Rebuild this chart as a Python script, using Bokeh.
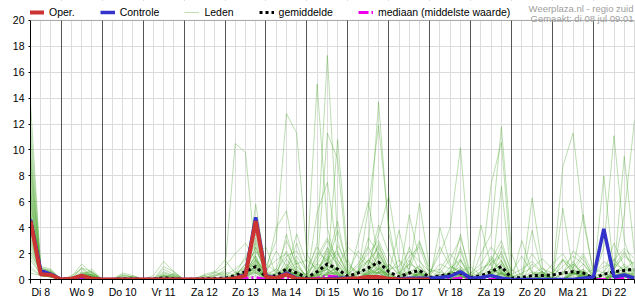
from bokeh.plotting import figure
from bokeh.models import Range1d, FixedTicker, Grid, Legend, LegendItem, Label, BoxAnnotation
from bokeh.embed import file_html
from bokeh.resources import INLINE

# time axis: hours since Di 8 00:00, 6-hourly steps
hours = list(range(6, 361, 6))
day_labels = ["Di 8", "Wo 9", "Do 10", "Vr 11", "Za 12", "Zo 13", "Ma 14", "Di 15",
              "Wo 16", "Do 17", "Vr 18", "Za 19", "Zo 20", "Ma 21", "Di 22"]
y_ticks = [0, 2, 4, 6, 8, 10, 12, 14, 16, 18, 20]

# operational run (ends Vr 18 00:00)
oper = [4.5, 0.4, 0.35,
        0, 0.05, 0.3, 0.05,
        0, 0, 0, 0,
        0, 0, 0, 0,
        0, 0, 0, 0,
        0, 0.1, 0.3, 4.5,
        0.2, 0.1, 0.4, 0.05,
        0, 0, 0, 0,
        0.05, 0.1, 0.2, 0.2,
        0.05, 0, 0, 0,
        0]

controle = [4.6, 0.7, 0.4,
            0, 0.05, 0.25, 0,
            0, 0, 0, 0,
            0, 0, 0, 0,
            0, 0, 0, 0,
            0, 0.1, 0.4, 4.8,
            0.3, 0.1, 0.5, 0.1,
            0, 0, 0.05, 0.1,
            0.1, 0.05, 0.1, 0.1,
            0, 0.05, 0.1, 0.1,
            0.1, 0.15, 0.25, 0.6,
            0.1, 0.15, 0.3, 0.1,
            0, 0, 0, 0,
            0, 0, 0, 0.1,
            0.2, 3.9, 0.2, 0.35,
            0.1]

gemiddelde = [4.6, 0.55, 0.4,
              0.02, 0.08, 0.25, 0.12,
              0, 0, 0.05, 0.04,
              0, 0.03, 0.12, 0.06,
              0, 0.02, 0.05, 0.08,
              0.1, 0.3, 0.6, 1.0,
              0.2, 0.3, 0.8, 0.5,
              0.15, 0.6, 1.2, 0.8,
              0.25, 0.5, 0.9, 1.35,
              0.6, 0.2, 0.5, 0.7,
              0.15, 0.3, 0.4, 0.5,
              0.15, 0.3, 0.6, 1.0,
              0.1, 0.15, 0.3, 0.3,
              0.35, 0.5, 0.6, 0.5,
              0.1, 0.4, 0.6, 0.7,
              0.8]

mediaan = [4.5, 0.5, 0.4,
           0, 0, 0.05, 0,
           0, 0, 0, 0,
           0, 0, 0, 0,
           0, 0, 0, 0,
           0, 0, 0.1, 0.15,
           0, 0, 0.1, 0,
           0, 0.1, 0.25, 0.2,
           0, 0, 0.2, 0.25,
           0, 0, 0, 0.1,
           0, 0, 0, 0.1,
           0, 0, 0, 0.1,
           0, 0, 0, 0,
           0, 0, 0, 0,
           0, 0, 0, 0.1,
           0]

# ensemble members ("Leden")
leden = [
    [13.6, 0.9, 0.6, 0, 0.2, 1.2, 0.5, 0, 0, 0, 0, 0, 0, 0.3, 0.2, 0, 0, 0, 0.2,
     0.8, 10.5, 9.8, 1.6, 0.3, 0, 1.2, 0.5, 0, 2.1, 1.5, 0.3, 0, 0, 0.4, 1.1,
     0.2, 0, 0, 0.5, 0, 0, 0.3, 0.8, 0, 0, 0.4, 0.2, 0, 0, 0, 0.3,
     0, 0.6, 1.2, 0.4, 0, 0, 0.5, 0.8, 0.3],
    [11.0, 0.7, 0.5, 0, 0, 0.3, 0.8, 0, 0, 0.5, 0.3, 0, 0, 0, 0, 0, 0, 0, 0,
     0, 0.4, 1.8, 3.2, 1.0, 3.0, 12.8, 11.3, 2.0, 0.5, 0.8, 0.2, 0, 0.3, 1.5, 2.4,
     0.5, 0, 0, 0, 0, 0.2, 0.5, 0.2, 0, 0, 1.3, 2.0, 0.3, 0, 0, 0,
     0.2, 0, 0, 0.4, 0, 0.3, 1.0, 2.2, 0.5],
    [9.5, 0.5, 0.3, 0, 0, 0.9, 0.3, 0, 0, 0, 0, 0, 0.3, 1.4, 0.6, 0, 0, 0, 0,
     0, 0, 0.5, 2.5, 0.5, 0, 0.8, 3.5, 1.2, 15.1, 4.0, 0.8, 0, 0.5, 0.9, 0.3,
     0, 0, 1.5, 0.4, 0, 0.8, 0, 0, 0, 0, 0, 0.5, 0, 0, 0.2, 0,
     0, 1.5, 0.6, 0, 0, 0.4, 0, 0, 0],
    [8.5, 0.6, 0.4, 0.1, 0, 0.4, 0.2, 0, 0, 0, 0, 0, 0, 0, 0, 0, 0, 0.4, 0.6,
     0.2, 0, 0, 1.2, 0.3, 0.5, 2.2, 0.6, 0.4, 2.8, 17.3, 3.0, 0.5, 0, 0.6, 1.8,
     0, 0.6, 0, 0, 0, 0, 0, 1.5, 0.2, 0, 0.8, 0.4, 0, 0, 0, 0,
     0, 0, 0, 0.3, 0, 0, 0.6, 0.4, 0.2],
    [8.0, 0.8, 0.7, 0, 0, 0, 0, 0, 0, 0.2, 0.1, 0, 0, 0.6, 0.3, 0, 0, 0, 0,
     0, 0.2, 0.6, 1.8, 0.4, 0, 0.7, 0.2, 0, 1.0, 11.3, 9.3, 0.8, 0, 0, 0.5,
     1.2, 0.3, 0, 0, 0, 0.4, 0, 2.5, 0, 0.5, 1.8, 0.5, 0, 0, 0.4, 0.9,
     0, 0, 0.3, 0.8, 0, 0, 0.3, 0, 0],
    [7.0, 0.5, 0.3, 0, 0.1, 0.6, 0.3, 0, 0, 0, 0, 0, 0, 0, 0, 0, 0, 0, 0,
     0, 0, 0.3, 0.9, 0, 0, 0.5, 1.0, 0.3, 0, 1.2, 2.0, 0.4, 1.2, 2.6, 13.7,
     3.5, 0.5, 0, 0, 0, 0, 0.7, 0.2, 0, 0, 0, 0, 0, 0.2, 0.6, 0.4,
     0, 0, 0, 0, 0, 0, 0.4, 1.2, 0.6],
    [6.5, 0.4, 0.2, 0, 0, 0.2, 0.1, 0, 0, 0, 0.3, 0, 0, 0.3, 0, 0, 0, 0, 0,
     0, 0.6, 0.3, 0.5, 0.2, 0, 1.6, 0.4, 0, 0, 0.4, 2.6, 1.2, 0.5, 5.5, 11.9,
     4.2, 0.3, 0.6, 1.0, 0.2, 0, 0, 0.4, 0, 0, 0, 0.8, 0, 0, 0, 0,
     0.5, 1.5, 0.5, 0.2, 0, 0, 0, 0, 0],
    [6.0, 0.6, 0.5, 0, 0, 0.5, 0.6, 0, 0, 0, 0, 0, 0, 0, 0.2, 0, 0, 0, 0,
     0, 0, 0.2, 1.4, 0, 0.5, 0.9, 0.2, 0, 0.3, 1.6, 0.4, 0, 0.7, 0.3, 0.8,
     0.4, 0, 1.2, 3.0, 0.5, 2.0, 4.0, 10.2, 0.6, 0, 0.5, 1.2, 0, 0, 0, 0,
     0, 0, 0.6, 0.2, 0, 0, 0, 0.5, 0.3],
    [5.5, 0.3, 0.2, 0, 0, 0.1, 0, 0, 0, 0, 0, 0, 0, 0, 0, 0, 0, 0, 0.3,
     0.4, 0, 0.8, 0.7, 0, 0, 0.4, 0.6, 0, 0.5, 0.8, 0.3, 0, 0, 0, 0.6,
     0.3, 0, 0, 0.4, 0, 0, 0.4, 0, 0, 2.0, 3.5, 11.8, 2.0, 0, 0, 0,
     0, 0, 0.8, 0.3, 0, 0, 1.6, 0.5, 0],
    [5.0, 0.5, 0.4, 0, 0.3, 0.8, 0.2, 0, 0, 0, 0, 0, 0, 0, 0, 0, 0.1, 0.3, 0,
     0, 0, 0.4, 0.6, 0.2, 0.8, 0.3, 0, 0, 0.2, 2.5, 1.5, 0.3, 0, 0.7, 2.1,
     0.6, 0, 0, 0, 0, 0, 0.3, 0.6, 0, 0.6, 7.4, 10.6, 0.8, 0, 0, 0.4,
     0, 0, 0.5, 1.2, 0.2, 0, 0, 0.3, 0],
    [4.8, 0.7, 0.6, 0, 0, 0.3, 0.5, 0, 0, 0, 0, 0, 0, 0.2, 0.4, 0, 0, 0, 0,
     0, 0, 0, 0.8, 0.3, 0, 0.6, 1.3, 0, 0, 0.5, 0.9, 0, 0.8, 1.5, 0.6,
     0, 0, 0.5, 0.2, 0, 0.3, 0, 0, 0, 0, 0, 0.6, 0, 0, 0, 0.4,
     0.2, 8.7, 11.3, 4.5, 0.6, 0, 0, 0.4, 0.2],
    [4.5, 0.6, 0.4, 0, 0, 0.2, 0, 0, 0, 0, 0, 0, 0, 0, 0, 0, 0, 0, 0,
     0, 0, 0.5, 1.0, 0, 0.3, 0.6, 0.3, 0, 0.6, 1.2, 0.4, 0, 0, 0, 0.9,
     0.3, 0, 0.4, 1.1, 0, 0, 0.6, 0.3, 0, 0, 0.4, 0.8, 0, 0, 0.3, 0.6,
     0, 0, 0.5, 0.3, 0, 2.5, 11.1, 3.0, 0.6],
    [4.2, 0.4, 0.3, 0, 0, 0, 0.2, 0, 0, 0.4, 0.2, 0, 0, 0, 0, 0, 0, 0, 0,
     0, 0.3, 1.2, 0.5, 0, 0, 0.8, 0.3, 0, 0, 0.4, 0.6, 0, 0, 0.5, 1.4,
     0, 0, 0, 0.5, 0, 0, 0, 0.2, 0, 0, 0, 0.5, 0, 0, 0, 0,
     0, 0, 0.4, 0.7, 0, 0, 0.8, 5.0, 12.3],
    [4.0, 0.5, 0.4, 0, 0, 0.3, 0.2, 0, 0, 0, 0, 0, 0, 0.3, 0.1, 0, 0, 0, 0,
     0, 0, 0.4, 2.0, 2.5, 0.3, 0.5, 0.2, 0, 0.4, 0.8, 10.8, 1.5, 0, 0.6, 0.5,
     0, 0, 0, 0.3, 0, 0.4, 0.2, 0, 0, 0, 0.6, 1.4, 0, 0, 0.4, 0.6,
     0, 0, 0.2, 0.5, 0, 0, 0.3, 0.3, 0],
    [3.5, 0.3, 0.2, 0, 0, 0, 0, 0, 0, 0, 0, 0, 0, 0, 0.5, 0, 0, 0, 0,
     0, 0, 0.6, 1.5, 0.5, 4.0, 5.3, 1.0, 0.3, 1.5, 3.0, 1.2, 0, 0.5, 0.3, 0.2,
     0, 0, 0.8, 5.9, 0.8, 0, 0, 0.3, 0, 0, 0.4, 0.9, 0, 0, 1.2, 0.5,
     0, 0, 0, 0, 0, 0.4, 0.7, 0.2, 0],
    [3.0, 0.4, 0.3, 0, 0, 0.4, 0.6, 0, 0, 0, 0, 0, 0, 0, 0, 0, 0, 0, 0.1,
     0.2, 0, 0.3, 5.8, 0.8, 0, 0.3, 0.5, 0, 0.8, 2.0, 0.6, 0, 3.0, 6.0, 1.5,
     0.2, 0, 0, 0.6, 0.3, 0, 0, 0.9, 0, 0, 0, 0.2, 0, 0, 0, 0,
     0, 0.5, 1.4, 0.3, 0, 0, 0, 0.6, 0.3],
    [2.5, 0.5, 0.6, 0, 0, 0, 0.2, 0, 0, 0.3, 0.2, 0, 0, 1.0, 0.6, 0, 0, 0, 0.6,
     1.5, 0.5, 0.8, 1.2, 0, 0, 0.6, 2.8, 0.5, 0, 0.4, 1.0, 0.3, 0, 1.2, 3.5,
     6.5, 1.5, 0, 0, 0, 0, 0.6, 2.2, 0, 0.4, 1.6, 0.5, 0, 0, 0, 0.3,
     0, 0, 0.5, 0.8, 0, 0, 0.4, 0.2, 0],
    [2.0, 0.6, 0.5, 0, 0, 0.3, 0.4, 0, 0, 0, 0, 0, 0, 0, 0, 0, 0, 0, 0,
     0, 0, 0.2, 0.6, 0.3, 0, 0.4, 0.3, 0, 5.2, 7.5, 2.0, 0.4, 0, 0.8, 0.5,
     0, 0, 0, 0, 0, 0.6, 0.3, 0.5, 0, 0, 0.3, 0.7, 0, 0, 0, 0.2,
     0.6, 0, 0, 0, 0, 0, 0.5, 1.0, 0.4],
    [1.5, 0.4, 0.3, 0, 0, 0, 0, 0, 0, 0, 0, 0, 0, 0.3, 0.2, 0, 0, 0, 0,
     0, 0, 0.8, 2.5, 0.2, 0, 0.6, 0.4, 0, 0.3, 0.6, 0.2, 0.2, 0, 0, 0.6,
     0.5, 0, 0, 0.7, 0, 4.0, 1.2, 0.3, 0, 0, 0.8, 0.4, 0.3, 0, 0, 0.5,
     0, 0, 0.4, 0.6, 0, 0, 0, 0.8, 0.5],
    [1.0, 0.3, 0.2, 0, 0, 0.2, 0.1, 0, 0, 0, 0, 0, 0, 0, 0, 0, 0, 0, 0,
     0, 0, 0.3, 1.0, 0, 0, 0.5, 0.8, 0, 0.4, 1.0, 0.5, 0, 0, 0.6, 2.8,
     0.7, 0, 0.5, 0.2, 0, 0, 0.3, 0.8, 0, 0, 0, 0.5, 0, 0, 6.3, 1.0,
     0, 0, 0, 0.3, 0, 0, 0.3, 0.5, 0],
    [0.5, 0.3, 0.2, 0, 0, 0, 0, 0, 0, 0, 0, 0, 0, 0, 0, 0, 0, 0, 0,
     0, 0, 0, 0.5, 0, 0, 0.4, 0.2, 0, 0, 0.6, 0.3, 0, 0, 0.4, 0.9,
     0, 0, 0.2, 0.4, 0, 0, 0, 0.3, 0, 0, 0.5, 1.2, 0, 0, 0, 0,
     0, 0, 0, 0.4, 0, 0, 0.2, 0.4, 0.2],
    [9.0, 0.8, 0.6, 0, 0, 0.4, 0.3, 0, 0, 0.2, 0, 0, 0, 0, 0, 0, 0, 0.2, 0.3,
     0.5, 0, 1.0, 3.0, 0.6, 0, 0.9, 0.4, 0, 0.6, 2.2, 1.2, 0.3, 0, 0.4, 1.0,
     0, 0, 0.6, 0.3, 0, 0, 0.5, 1.0, 0, 0, 0, 0.6, 0, 0, 0, 0,
     0, 0, 0.8, 5.0, 0.3, 0, 0.6, 9.5, 2.0],
    [7.5, 0.6, 0.4, 0, 0, 0, 0.2, 0, 0, 0, 0, 0, 0, 0.2, 0, 0, 0, 0, 0,
     0, 0.2, 0.5, 1.6, 0.4, 0, 3.5, 0.8, 0, 0.4, 0.3, 0.6, 0, 0.6, 1.5, 0.8,
     0, 0, 2.5, 0.6, 0, 0, 0.6, 0.3, 0, 0, 0, 7.2, 0, 0, 0, 0.2,
     0, 0, 0, 0.5, 0, 8.0, 0.5, 0.3, 0.5],
    [6.0, 0.7, 0.3, 0, 0, 0.1, 0, 0, 0, 0, 0, 0, 0, 0, 0, 0, 0, 0, 0,
     0, 0, 0.4, 1.0, 0.3, 0, 1.0, 0.6, 0, 0, 1.4, 4.5, 0.6, 0, 0.3, 2.0,
     0.4, 0, 0, 0.5, 0, 0, 0, 0.2, 0.2, 0, 0, 0.4, 0, 0, 0, 0.6,
     0, 5.5, 0.6, 0, 0, 0, 0.3, 0.2, 0],
    [3.8, 0.5, 0.4, 0, 0, 0.2, 0.3, 0, 0, 0, 0.1, 0, 0, 0.4, 0.2, 0, 0, 0, 0,
     0, 0, 0.6, 1.8, 0, 0, 0.6, 0.5, 0, 0.7, 1.8, 0.5, 0, 0.4, 2.5, 1.0,
     0, 0, 0, 0.4, 0, 0, 0.2, 0.6, 0, 0, 0.6, 1.5, 0, 0, 0.3, 0,
     0, 0, 0.4, 0.6, 0, 0, 0.5, 0.8, 0.6],
    [2.8, 0.4, 0.5, 0, 0, 0, 0.1, 0, 0, 0, 0, 0, 0, 0, 0, 0, 0, 0, 0,
     0, 0, 0.2, 0.8, 0, 0, 0.5, 0.4, 0, 1.2, 0.8, 0.2, 0, 0, 0.4, 0.6,
     0, 0, 0, 0.8, 0, 0, 0, 0.4, 0, 0, 0, 0.3, 0, 0, 0, 0,
     0, 0.4, 0.5, 0.2, 0, 0, 0, 0.4, 0.3],
    [1.8, 0.3, 0.3, 0, 0, 0, 0, 0, 0, 0, 0, 0, 0, 0, 0, 0, 0, 0, 0,
     0, 0, 0.5, 1.5, 0, 0, 0.3, 0.6, 0, 0.3, 0.4, 0.2, 0, 0, 0.3, 0.5,
     0, 0, 5.0, 1.5, 0, 0, 0.3, 3.5, 0, 0, 0, 0.6, 0, 0, 3.8, 0.4,
     0, 0, 0, 0.5, 0, 0, 0.3, 0.6, 0],
    [5.2, 0.5, 0.3, 0, 0, 0.3, 0.4, 0, 0, 0, 0, 0, 0, 0, 0, 0, 0, 0, 0,
     0, 0, 0.4, 1.3, 0.3, 0, 0.6, 0.2, 0, 0.5, 1.0, 0.8, 0, 0, 0.5, 1.5,
     0.5, 3.8, 0.4, 0, 0, 0, 1.0, 0.6, 0, 4.2, 1.0, 0.2, 0, 0, 0, 0,
     0, 0, 0.6, 1.8, 0, 0, 0, 0.3, 0],
    [10.0, 0.9, 0.7, 0, 0, 0.5, 0.2, 0, 0, 0, 0, 0, 0, 0, 0, 0, 0, 0, 0,
     0, 0, 0.3, 1.1, 0, 0, 0.8, 1.5, 0, 0, 0.5, 0.4, 0, 0, 0.8, 1.2,
     0, 0, 0, 0.6, 0, 0, 0.4, 1.5, 0, 0, 0.3, 2.2, 0, 0, 0, 0.2,
     0, 0, 0, 0, 0, 0, 0.8, 2.0, 1.0],
    [0.8, 0.3, 0.2, 0, 0, 0, 0, 0, 0, 0, 0, 0, 0, 0, 0, 0, 0, 0, 0,
     0, 0, 0, 0.3, 0, 0, 0.2, 0.3, 0, 0.2, 0.8, 0.4, 0, 0, 0.3, 0.8,
     0, 0, 0.6, 0.2, 0, 0, 0, 0.5, 0, 0, 0.4, 0.9, 0, 3.0, 0.5, 0,
     0, 0, 1.2, 0.5, 0, 0, 0, 0.5, 0.4],
    [3.2, 0.6, 0.4, 0, 0, 0.3, 0.2, 0, 0, 0, 0, 0, 0, 0.2, 0, 0, 0, 0, 0.4,
     0.6, 0.3, 1.2, 2.2, 0.8, 1.5, 2.0, 0.6, 0.3, 1.8, 3.2, 1.5, 0.4, 1.0, 2.0, 3.0,
     1.2, 0.4, 1.8, 2.5, 0.3, 1.2, 0.8, 1.6, 0.2, 0.6, 1.5, 3.0, 0.4, 0.8, 1.4, 0.6,
     0.3, 1.0, 1.8, 1.2, 0.2, 0.6, 1.5, 2.4, 1.6],
    [2.2, 0.5, 0.3, 0, 0, 0.2, 0.3, 0, 0, 0.1, 0, 0, 0, 0.5, 0.3, 0, 0, 0, 0,
     0.3, 0.8, 1.5, 3.5, 1.2, 0.6, 1.8, 2.2, 0.8, 2.5, 1.2, 3.8, 1.0, 0.5, 3.2, 2.0,
     0.6, 1.5, 0.8, 2.8, 0.8, 0.5, 1.6, 3.2, 0.5, 1.2, 2.5, 1.4, 0.2, 0.5, 0.9, 1.6,
     0.8, 0.4, 2.2, 1.5, 0.3, 1.4, 0.8, 1.8, 1.2],
    [12.0, 1.0, 0.8, 0, 0.1, 0.9, 0.6, 0, 0, 0.3, 0.2, 0, 0, 0.8, 0.4, 0, 0, 0.3, 0.5,
     1.0, 2.0, 2.8, 1.5, 0.5, 2.2, 1.0, 1.8, 0.6, 1.2, 2.4, 1.0, 2.5, 1.8, 1.0, 4.2,
     2.0, 0.5, 1.2, 0.8, 0.4, 2.5, 1.0, 0.6, 1.0, 0.3, 0.8, 2.6, 0.6, 1.8, 0.5, 0.3,
     1.2, 2.0, 0.7, 0.4, 0.8, 0.5, 2.8, 1.0, 0.7],
    [6.8, 0.6, 0.5, 0, 0, 0.4, 0.4, 0, 0, 0, 0, 0, 0, 0, 0.2, 0, 0, 0, 0,
     0, 0.4, 1.0, 2.8, 0.4, 0.8, 3.0, 1.2, 1.5, 0.8, 1.6, 2.2, 0.5, 2.2, 1.2, 2.6,
     0.8, 1.0, 2.2, 1.4, 0.6, 0.8, 2.0, 1.0, 0.3, 0.9, 1.2, 1.8, 0.2, 0.4, 2.0, 0.8,
     0.5, 1.6, 0.9, 2.0, 0.4, 1.0, 1.2, 0.8, 1.4],
]

for k, m in enumerate(leden):
    assert len(m) == len(hours), (k, len(m))
assert len(controle) == 60 and len(gemiddelde) == 60 and len(mediaan) == 60 and len(oper) == 40

FONT = "Liberation Sans"
PX_PER_UNIT = 13.0          # 260 px plot height for 0..20 mm
Y_TOP = 280 / PX_PER_UNIT   # frame extends into the header strip

p = figure(width=635, height=300, output_backend="svg", toolbar_location=None,
           x_range=Range1d(6, 360), y_range=Range1d(0, Y_TOP),
           min_border_left=30, min_border_right=1, min_border_top=0, min_border_bottom=20)
p.background_fill_color = "white"
p.border_fill_color = "white"
p.outline_line_color = None

# ticks
six_hour_ticks = list(range(6, 361, 6))
midnights = list(range(24, 360, 24))
noon_labels = {12 + 24 * d: lab for d, lab in enumerate(day_labels)}
overrides = {t: noon_labels.get(t, "") for t in six_hour_ticks}

p.xaxis.ticker = FixedTicker(ticks=six_hour_ticks, minor_ticks=[])
p.xaxis.major_label_overrides = overrides
p.xaxis.major_tick_out = 4
p.xaxis.major_tick_in = 0
p.xaxis.major_label_standoff = 2
p.xaxis.axis_line_color = "black"
p.xaxis.major_tick_line_color = "black"
p.xaxis.major_label_text_font = FONT
p.xaxis.major_label_text_font_size = "10.5px"
p.xaxis.major_label_text_color = "black"

p.yaxis.ticker = FixedTicker(ticks=y_ticks, minor_ticks=[])
p.yaxis.bounds = (0, 20)
p.yaxis.major_tick_out = 2
p.yaxis.major_tick_in = 0
p.yaxis.major_label_standoff = 4
p.yaxis.axis_line_color = "black"
p.yaxis.major_tick_line_color = "black"
p.yaxis.major_label_text_font = FONT
p.yaxis.major_label_text_font_size = "10.5px"
p.yaxis.major_label_text_color = "black"

p.xgrid.ticker = FixedTicker(ticks=six_hour_ticks)
p.xgrid.grid_line_color = "#dcdcdc"
p.ygrid.ticker = FixedTicker(ticks=y_ticks)
p.ygrid.grid_line_color = "#dcdcdc"
p.add_layout(Grid(dimension=0, ticker=FixedTicker(ticks=midnights),
                  grid_line_color="#555555", grid_line_width=1))

# data
r_leden = p.multi_line(xs=[hours] * len(leden), ys=leden,
                       line_color="#4fa832", line_alpha=0.38, line_width=1)
r_med = p.line(hours, mediaan, line_color="#ee00ee", line_width=3, line_dash="10 3 2 3")
r_mean = p.line(hours, gemiddelde, line_color="black", line_width=3, line_dash="3 3")
r_ctrl = p.line(hours, controle, line_color="#3333cc", line_width=3.5)
r_oper = p.line(hours[:len(oper)], oper, line_color="#cc3333", line_width=4)

# header strip above the 0..20 plot box: blank it, then draw the box outline
p.add_layout(BoxAnnotation(bottom=20, fill_color="white", fill_alpha=1, line_alpha=0,
                           level="annotation"))
p.add_layout(BoxAnnotation(left=6, right=360, bottom=0, top=20, fill_alpha=0,
                           line_color="black", line_width=1, level="annotation"))

legend = Legend(items=[LegendItem(label="Oper.", renderers=[r_oper]),
                       LegendItem(label="Controle", renderers=[r_ctrl]),
                       LegendItem(label="Leden", renderers=[r_leden]),
                       LegendItem(label="gemiddelde", renderers=[r_mean]),
                       LegendItem(label="mediaan (middelste waarde)", renderers=[r_med])],
                orientation="horizontal", location=(-1, 261),
                glyph_width=15, glyph_height=10, label_standoff=5, spacing=25,
                padding=0, margin=0, label_height=12,
                background_fill_alpha=0, border_line_alpha=0,
                label_text_font=FONT, label_text_font_size="10.5px",
                label_text_color="black")
p.add_layout(legend, "center")

p.add_layout(Label(x=360, y=20 + 11.5 / PX_PER_UNIT, x_offset=-1, text="Weerplaza.nl - regio zuid",
                   text_align="right", text_baseline="alphabetic",
                   text_font=FONT, text_font_size="9.5px", text_color="#a0a0a0"))
p.add_layout(Label(x=360, y=20 + 2.0 / PX_PER_UNIT, x_offset=-1, text="Gemaakt: di 08 jul 09:01",
                   text_align="right", text_baseline="alphabetic",
                   text_font=FONT, text_font_size="9.5px", text_color="#a0a0a0"))

open("out.html", "w").write(file_html(p, INLINE))
